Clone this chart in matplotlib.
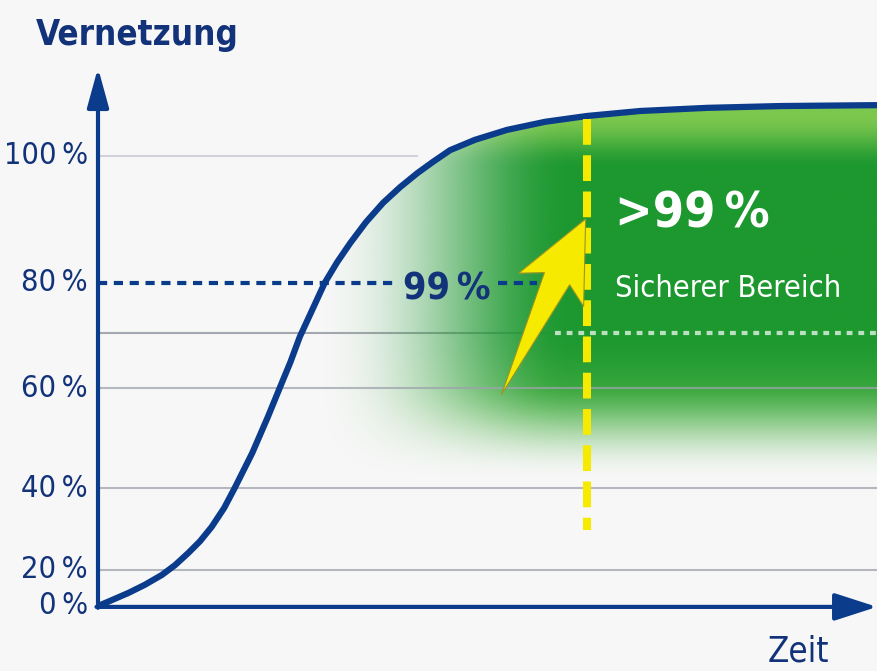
import numpy as np
import matplotlib.pyplot as plt
from matplotlib.patches import Polygon
from matplotlib.colors import to_rgb

zeit = [0, 1.5, 3.9, 6.0, 8.2, 9.9, 11.6, 13.1, 14.6, 16.2, 17.6, 18.7, 19.8,
        20.8, 21.8, 22.7, 23.6, 24.7, 25.9, 27.5, 29.1, 30.7, 32.4, 34.4, 36.6,
        38.8, 41.0, 43.0, 45.2, 48.4, 52.5, 57.4, 62.8, 69.6, 78.2, 87.6, 100]
vernetzung = [0, 1.1, 2.9, 4.7, 6.9, 9.1, 11.8, 14.4, 17.6, 21.8, 26.4, 30.2, 34.0,
              38.0, 42.0, 45.8, 49.6, 54.2, 59.8, 65.8, 71.8, 76.4, 80.7, 85.3, 89.6,
              93.1, 96.2, 98.7, 101.3, 103.6, 105.8, 107.6, 108.9, 110.0, 110.7, 111.1, 111.3]

tick_labels = ["0\u2009%", "20\u2009%", "40\u2009%", "60\u2009%", "80\u2009%", "100\u2009%"]
tick_pos = [0, 8.0, 26.2, 48.4, 71.8, 100]
extra_grid = 60.7
schwelle = 62.8          # Zeitpunkt >99 %

navy = "#0b3c8c"
navy_txt = "#12337a"
bg = "#f7f7f7"
yellow = "#f6ea00"

plt.rcParams['font.family'] = ['DejaVu Sans']
plt.rcParams['font.stretch'] = 'condensed'

fig = plt.figure(figsize=(8.77, 6.71), dpi=100, facecolor=bg)
ax = fig.add_axes([0, 0, 1, 1])
ax.set_xlim(-98 / 7.79, 100)
ax.set_ylim(-65 / 4.5, 606 / 4.5)
ax.axis('off')

# gridlines under the green
ax.plot([0, 41], [100, 100], color="#d0d2d8", lw=1.5, zorder=1)
ax.plot([0, 100], [extra_grid] * 2, color="#a4a8b0", lw=1.5, zorder=1)

# green area below the curve
T, V = np.meshgrid(np.linspace(0, 100, 500), np.linspace(0, 115, 500))
def smooth(a):
    a = np.clip(a, 0, 1)
    return a * a * (3 - 2 * a)
wx = smooth((T - 27) / 34)
wy = smooth((V - 27) / 23)
dark = np.array(to_rgb("#1c982f"))
lime = np.array(to_rgb("#7cc74e"))
mid = np.array(to_rgb("#4cb246"))
f = smooth((V - 97) / 12)[..., None]
g = smooth((62 - V) / 25)[..., None]
col = dark * (1 - f) + lime * f
col = col * (1 - g) + mid * g
rgba = np.dstack([col, (wx * wy) ** 1.2])
im = ax.imshow(rgba, extent=[0, 100, 0, 115], origin='lower', aspect='auto',
               interpolation='bilinear', zorder=2)
clip = Polygon(np.column_stack([zeit + [100, 0], vernetzung + [-1, -1]]),
               closed=True, transform=ax.transData, fc='none', ec='none')
ax.add_patch(clip)
im.set_clip_path(clip)

# gridlines on top
for p in tick_pos[1:4]:
    ax.plot([0, 100], [p, p], color="#9ea3ac", lw=1.5, alpha=0.75, zorder=3)
ax.plot([58.7, 100], [extra_grid] * 2, color="white", lw=3, alpha=0.7,
        dashes=(1.4, 1.4), zorder=4)

# 80 % dashed marker and 99 % label
ax.plot([0, 38.5], [tick_pos[4]] * 2, color=navy, lw=3, dashes=(2.2, 1.6), zorder=4)
ax.plot([51.3, 56.3], [tick_pos[4]] * 2, color=navy, lw=3, dashes=(2.2, 1.6), zorder=4)
ax.text(44.8, 68.0, "99\u2009%", color=navy_txt, fontsize=27, fontweight='bold',
        ha='center', va='baseline', zorder=6)

# S-curve
ax.plot(zeit, vernetzung, color=navy, lw=4.5, solid_capstyle='butt', zorder=5)

# yellow threshold line
ax.plot([schwelle, schwelle], [108.2, 17], color=yellow, lw=5.8,
        dashes=(3.2, 1.3), zorder=6)

# yellow arrow: pointed tail, widening shaft, swept head (built in pixel space)
tail = ax.transData.transform((51.8, 47.0))
tip = ax.transData.transform((62.6, 86.0))
d = tip - tail
L = np.hypot(*d)
d = d / L
n = np.array([-d[1], d[0]])
shape = [(L, 0), (L * 0.6, 37), (L * 0.66, 14), (0, 0), (L * 0.66, -14), (L * 0.59, -36)]
pts = np.array([tail + u * d + w * n for u, w in shape])
ax.add_patch(Polygon(ax.transData.inverted().transform(pts), closed=True,
                     fc=yellow, ec="#9a9424", lw=0.8, joinstyle='miter', zorder=7))

ax.text(66.4, 84.0, ">99\u2009%", color="white", fontsize=36, fontweight='bold',
        ha='left', va='baseline', zorder=7)
ax.text(66.4, 68.7, "Sicherer Bereich", color="white", fontsize=22,
        ha='left', va='baseline', zorder=7)

# axes with arrows
ax.annotate("", xy=(0, 119.6), xytext=(0, -0.4),
            arrowprops=dict(arrowstyle="-|>,head_length=1.2,head_width=0.33",
                            color=navy, lw=3, mutation_scale=20, shrinkA=0, shrinkB=0),
            zorder=8)
ax.annotate("", xy=(100, -0.2), xytext=(-0.2, -0.2),
            arrowprops=dict(arrowstyle="-|>,head_length=1.3,head_width=0.42",
                            color=navy, lw=3, mutation_scale=20, shrinkA=0, shrinkB=0),
            zorder=8)

for p, lab in zip(tick_pos, tick_labels):
    ax.text(-1.3, p, lab, color=navy_txt, fontsize=22, ha='right', va='center')

ax.text(-8.0, 126.9, "Vernetzung", color=navy_txt, fontsize=25, fontweight='bold',
        ha='left', va='center')
ax.text(86.0, -10.0, "Zeit", color=navy_txt, fontsize=25, ha='left', va='center')

fig.savefig("out.png", dpi=100, facecolor=bg)
